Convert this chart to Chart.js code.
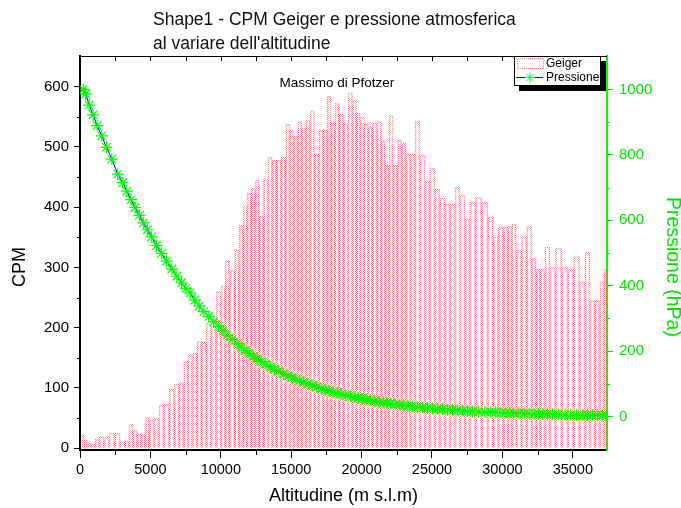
<!DOCTYPE html>
<html>
<head>
<meta charset="utf-8">
<script src="https://cdn.jsdelivr.net/npm/chart.js@4/dist/chart.umd.min.js"></script>
<style>
html,body{margin:0;padding:0;background:#fff;}
#wrap{width:681px;height:508px;position:relative;}
</style>
</head>
<body>
<div id="wrap"><canvas id="c" width="681" height="508"></canvas></div>
<script>
// ---- data ----
const altitudine = [230,410,650,930,1220,1540,1880,2260,2680,3033,
  3327,3622,3917,4211,4510,4783,5078,5433,5788,6143,
  6523,6878,7209,7528,7823,8153,8473,8792,9147,9502,
  9857,10167,10451,10806,11161,11456,11718,12017,12311,12581,
  12876,13196,13515,13813,14122,14453,14772,15056,15330,15603,
  15898,16193,16487,16807,17127,17421,17695,17968,18263,18557,
  18877,19211,19509,19768,20038,20333,20632,20930,21249,21569,
  21803,22073,22407,22706,23000,23295,23615,23970,24325,24680,
  25035,25390,25745,26100,26455,26811,27166,27521,27876,28291,
  28763,29175,29530,29885,30240,30539,30812,31167,31547,31902,
  32257,32552,32847,33202,33557,33973,34445,34857,35272,35687,
  36042,36397,36752,37108,37357];
const cpmGeiger = [22,14,9,7,15,19,19,25,25,11,
  12,39,30,24,22,51,47,49,72,73,
  98,107,109,144,155,158,177,176,208,202,
  260,270,311,295,329,370,402,423,431,445,
  385,446,483,478,478,483,538,528,518,542,
  531,544,560,488,528,528,584,540,573,554,
  539,590,577,556,550,538,534,540,542,510,
  470,552,470,511,506,489,488,543,486,442,
  465,430,415,405,405,433,420,380,408,416,
  408,384,351,367,367,368,372,329,351,368,
  315,297,297,334,300,332,300,296,318,276,
  325,245,245,276,297];
const pressione = [1000,986,952,922,889,858,823,787,741,715,
  689,663,639,615,592,571,549,523,499,475,
  451,429,409,391,378,356,338,321,306,290,
  276,262,249,236,223,212,202,193,184,176,
  168,160,152,145,138,131,125,119,114,110,
  105,100,95,91,86,82,79,75,72,69,
  65,62,59,57,54,52,50,47,45,43,
  41,40,38,36,34,33,31,29,28,26,
  25,24,23,21,20,19,18,17,16,15,
  14,13.5,13,12,11.5,11,10.6,10,9.5,9,
  8.6,8.2,7.9,7.5,7.1,6.7,6.2,5.9,5.5,5.2,
  5,4.7,4.5,4.2,4.1];
const altTicks = [0,5000,10000,15000,20000,25000,30000,35000];
const altMinor = [2500,7500,12500,17500,22500,27500,32500];
const altTop = [2500,5000,7500,10000,12500,15000,17500,20000,22500,25000,27500,30000,32500,35000];
const cpmTicks = [0,100,200,300,400,500,600];
const cpmMinor = [50,150,250,350,450,550];
const pressTicks = [0,200,400,600,800,1000];
const pressMinor = [100,300,500,700,900];
const titolo = ["Shape1 - CPM Geiger e pressione atmosferica", "al variare dell'altitudine"];
const annotazione = {text: "Massimo di Pfotzer", x: 18250, y: 606};
const FONT = "'Liberation Sans', Arial, Helvetica, sans-serif";
const GREEN = '#00e600';

const ctx = document.getElementById('c').getContext('2d');
function dotPattern(color) {
  const c = document.createElement('canvas'); c.width = 2; c.height = 2;
  const g = c.getContext('2d'); g.fillStyle = color;
  g.fillRect(0,0,1,1); g.fillRect(1,1,1,1);
  return ctx.createPattern(c, 'repeat');
}
const redDots = dotPattern('rgba(250,70,70,0.7)');

const decor = {
  id: 'decor',
  beforeDraw(chart) {
    const c = chart.ctx;
    c.save(); c.fillStyle = '#fff'; c.fillRect(0,0,chart.width,chart.height); c.restore();
  },
  afterDraw(chart) {
    const c = chart.ctx;
    const a = chart.chartArea;
    const {x, y, y2} = chart.scales;
    c.save();
    c.strokeStyle = '#000'; c.lineWidth = 1;
    c.beginPath(); c.moveTo(a.left, a.top + 0.5); c.lineTo(a.right, a.top + 0.5); c.stroke();
    altTop.forEach(v => { const px = Math.round(x.getPixelForValue(v)) + 0.5;
      c.beginPath(); c.moveTo(px, a.top); c.lineTo(px, a.top + 5); c.stroke(); });
    altMinor.forEach(v => { const px = Math.round(x.getPixelForValue(v)) + 0.5;
      c.beginPath(); c.moveTo(px, a.bottom); c.lineTo(px, a.bottom + 5); c.stroke(); });
    cpmMinor.forEach(v => { const py = Math.round(y.getPixelForValue(v)) + 0.5;
      c.beginPath(); c.moveTo(a.left - 3, py); c.lineTo(a.left, py); c.stroke(); });
    c.strokeStyle = GREEN;
    pressMinor.forEach(v => { const py = Math.round(y2.getPixelForValue(v)) + 0.5;
      c.beginPath(); c.moveTo(a.right, py); c.lineTo(a.right + 3, py); c.stroke(); });
    // chart title
    c.fillStyle = '#111'; c.textBaseline = 'middle'; c.textAlign = 'left';
    c.font = '17.5px ' + FONT;
    c.fillText(titolo[0], 153, 20);
    c.fillText(titolo[1], 153, 44);
    // axis titles
    c.font = '18px ' + FONT; c.fillStyle = '#000';
    c.save(); c.translate(20, 267); c.rotate(-Math.PI/2); c.textAlign = 'center'; c.fillText('CPM', 0, 0); c.restore();
    c.font = '19.5px ' + FONT;
    c.save(); c.translate(672, 267); c.rotate(Math.PI/2); c.textAlign = 'center'; c.fillStyle = GREEN; c.fillText('Pressione (hPa)', 0, 0); c.restore();
    c.font = '18px ' + FONT; c.textAlign = 'center'; c.fillStyle = '#000';
    c.fillText('Altitudine (m s.l.m)', (a.left + a.right) / 2, 496);
    // annotation
    c.font = '13.5px ' + FONT;
    c.fillText(annotazione.text, x.getPixelForValue(annotazione.x), y.getPixelForValue(annotazione.y));
    // legend
    const bx = 514, by = 56, bw = 86, bh = 29;
    c.fillStyle = '#000'; c.fillRect(bx + 5, by + 5, bw + 1, bh + 1);
    c.fillStyle = '#fff'; c.fillRect(bx, by, bw, bh);
    c.strokeStyle = '#000'; c.lineWidth = 1; c.strokeRect(bx + 0.5, by + 0.5, bw, bh);
    c.strokeStyle = redDots; c.strokeRect(517.5, 58.5, 26, 10);
    c.strokeStyle = '#0000ff'; c.beginPath(); c.moveTo(516, 77.5); c.lineTo(543, 77.5); c.stroke();
    c.strokeStyle = '#00ff00';
    Chart.helpers.drawPoint(c, {pointStyle: 'star', radius: 5, rotation: 0, borderWidth: 1}, 530, 77.5);
    c.fillStyle = '#000'; c.textAlign = 'left'; c.font = '12px ' + FONT;
    c.fillText('Geiger', 546, 64);
    c.fillText('Pressione', 546, 77.5);
    c.restore();
  }
};

new Chart(ctx, {
  type: 'bar',
  data: {
    datasets: [
      {
        type: 'line', label: 'Pressione', yAxisID: 'y2', xAxisID: 'x', order: 0,
        data: altitudine.map((a, i) => ({x: a, y: pressione[i]})),
        borderColor: '#0000ff', borderWidth: 1,
        pointStyle: 'star', pointRadius: 6, pointBorderColor: '#00ff00', pointBorderWidth: 1.2,
        pointBackgroundColor: '#00ff00', tension: 0, fill: false
      },
      {
        type: 'bar', label: 'Geiger', yAxisID: 'y', xAxisID: 'x', order: 1,
        data: altitudine.map((a, i) => ({x: a, y: cpmGeiger[i]})),
        backgroundColor: 'rgba(255,255,255,0)', borderColor: redDots, borderWidth: 1,
        barThickness: 'flex', barPercentage: 1, categoryPercentage: 1
      }
    ]
  },
  options: {
    responsive: false, animation: false, devicePixelRatio: 1,
    layout: {padding: {top: 56, left: 0, right: 0, bottom: 0}},
    plugins: {legend: {display: false}, tooltip: {enabled: false}, title: {display: false}},
    scales: {
      x: {
        type: 'linear', position: 'bottom', min: 0, max: 37430, offset: false,
        afterBuildTicks: s => { s.ticks = altTicks.map(v => ({value: v})); },
        afterFit: s => { s.height = 58; },
        ticks: {autoSkip: false, maxRotation: 0, minRotation: 0, color: '#000', padding: 3,
          font: {size: 14.5, family: FONT}, callback: v => String(v)},
        grid: {offset: false, drawOnChartArea: false, drawTicks: true, tickLength: 8, tickColor: '#000', tickWidth: 1},
        border: {display: true, color: '#000', width: 2}
      },
      y: {
        type: 'linear', position: 'left', min: -3, max: 651,
        afterBuildTicks: s => { s.ticks = cpmTicks.map(v => ({value: v})); },
        afterFit: s => { s.width = 80; },
        ticks: {color: '#000', padding: 5, font: {size: 15, family: FONT}, callback: v => String(v)},
        grid: {drawOnChartArea: false, drawTicks: true, tickLength: 6, tickColor: '#000', tickWidth: 1},
        border: {display: true, color: '#000', width: 2}
      },
      y2: {
        type: 'linear', position: 'right', min: -102, max: 1102,
        afterBuildTicks: s => { s.ticks = pressTicks.map(v => ({value: v})); },
        afterFit: s => { s.width = 74; },
        ticks: {color: GREEN, padding: 6, font: {size: 15, family: FONT}, callback: v => String(v)},
        grid: {drawOnChartArea: false, drawTicks: true, tickLength: 6, tickColor: GREEN, tickWidth: 1},
        border: {display: true, color: '#00ff00', width: 2}
      }
    }
  },
  plugins: [decor]
});
</script>
</body>
</html>
